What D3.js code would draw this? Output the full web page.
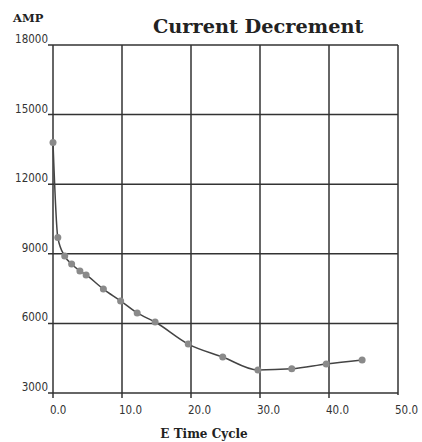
<!DOCTYPE html>
<html><head><meta charset="utf-8">
<script src="https://cdn.jsdelivr.net/npm/d3@7"></script>
<style>html,body{margin:0;padding:0;background:#fff;}</style>
</head><body>
<div id="chart"></div>
<script>
const cycles  = [0, 0.7, 1.7, 2.7, 3.9, 4.8, 7.3, 9.8, 12.2, 14.8, 19.6, 24.6, 29.7, 34.6, 39.6, 44.8];
const amps    = [13800, 9700, 8900, 8560, 8260, 8090, 7480, 6970, 6450, 6060, 5110, 4550, 3990, 4040, 4250, 4420];
const xTicks  = [0, 10, 20, 30, 40, 50];
const yTicks  = [3000, 6000, 9000, 12000, 15000, 18000];
const title   = "Current Decrement";
const xTitle  = "E Time Cycle";
const yTitle  = "AMP";

const W = 422, H = 442;
const svg = d3.select("#chart").append("svg").attr("width", W).attr("height", H)
  .style("background", "#fff");

const x = d3.scaleLinear().domain([0, 50]).range([53, 398]);
const y = d3.scaleLinear().domain([3000, 18000]).range([393, 45]);

const gridColor = "#333";

// horizontal grid lines + left ticks
svg.append("g").selectAll("line").data(yTicks).join("line")
  .attr("x1", x(0) - 5).attr("x2", x(50))
  .attr("y1", d => y(d)).attr("y2", d => y(d))
  .attr("stroke", gridColor).attr("stroke-width", 1.5);

// vertical grid lines + bottom ticks
svg.append("g").selectAll("line").data(xTicks).join("line")
  .attr("x1", d => x(d)).attr("x2", d => x(d))
  .attr("y1", y(18000)).attr("y2", d => d === 50 ? y(3000) + 2 : y(3000) + 5)
  .attr("stroke", gridColor).attr("stroke-width", 1.5);

// y tick labels
svg.append("g").selectAll("text").data(yTicks).join("text")
  .attr("x", x(0) - 5).attr("y", d => y(d) - 2)
  .attr("text-anchor", "end")
  .attr("font-family", "DejaVu Sans Condensed, DejaVu Sans")
  .attr("font-size", 11.5).attr("fill", "#333")
  .text(d => d);

// x tick labels
svg.append("g").selectAll("text").data(xTicks).join("text")
  .attr("x", d => x(d) - 3).attr("y", 414)
  .attr("text-anchor", "start")
  .attr("font-family", "DejaVu Sans Condensed, DejaVu Sans")
  .attr("font-size", 11.5).attr("fill", "#333")
  .text(d => d3.format(".1f")(d));

// titles
svg.append("text").attr("x", 153).attr("y", 33)
  .attr("font-family", "DejaVu Serif").attr("font-weight", "bold")
  .attr("font-size", 19.3).attr("fill", "#222").text(title);
svg.append("text").attr("x", 13).attr("y", 22)
  .attr("font-family", "DejaVu Serif").attr("font-weight", "bold")
  .attr("font-size", 11.5).attr("fill", "#222").text(yTitle);
svg.append("text").attr("x", 204).attr("y", 438).attr("text-anchor", "middle")
  .attr("font-family", "DejaVu Serif").attr("font-weight", "bold")
  .attr("font-size", 12).attr("fill", "#222").text(xTitle);

// data line
const pts = cycles.map((c, i) => [c, amps[i]]);
svg.append("path").datum(pts)
  .attr("fill", "none").attr("stroke", "#444").attr("stroke-width", 1.5)
  .attr("d", d3.line().x(d => x(d[0])).y(d => y(d[1])).curve(d3.curveMonotoneX));

svg.append("g").selectAll("circle").data(pts).join("circle")
  .attr("cx", d => x(d[0])).attr("cy", d => y(d[1])).attr("r", 3.5)
  .attr("fill", "#8a8a8a");
</script>
</body></html>
